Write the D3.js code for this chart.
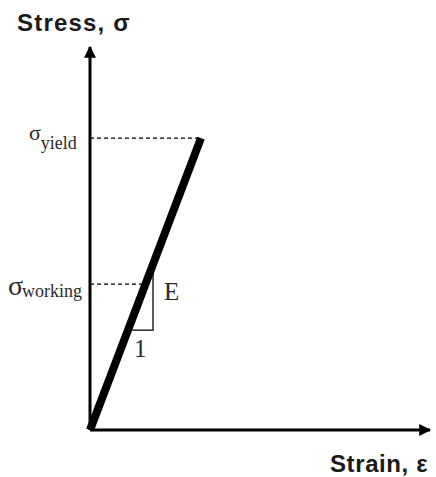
<!DOCTYPE html>
<html>
<head>
<meta charset="utf-8">
<script src="https://cdn.jsdelivr.net/npm/d3@7"></script>
<style>
body { margin: 0; background: #fff; }
</style>
</head>
<body>
<script>
var w = 436;
var h = 477;

// stress-strain values (MPa, strain)
var strainMax = 0.00383;
var stressMax = 328;
var elasticStrain = [0, 0.00125];
var elasticStress = [0, 250];
var yieldStress = 250;
var workingStress = 125;
// slope triangle corners
var triStrain = [0.000428, 0.000710];
var triStress = [85.6, 142];
var labels = ["Stress, σ", "Strain, ε", "E", "1"];

var svg = d3.select("body").append("svg").attr("width", w).attr("height", h);

var x = d3.scaleLinear().domain([0, strainMax]).range([90, 430]);
var y = d3.scaleLinear().domain([0, stressMax]).range([430, 47]);

var defs = svg.append("defs");
defs.append("marker").attr("id", "arr")
    .attr("viewBox", "0 0 10 10").attr("refX", 9).attr("refY", 5)
    .attr("markerWidth", 15).attr("markerHeight", 12)
    .attr("markerUnits", "userSpaceOnUse")
    .attr("orient", "auto")
    .append("path").attr("d", "M0,0L10,5L0,10Z").attr("fill", "#000");

// dashed guides
svg.append("line")
    .attr("x1", x(0)).attr("x2", x(elasticStrain[1]))
    .attr("y1", y(yieldStress)).attr("y2", y(yieldStress))
    .attr("stroke", "#000").attr("stroke-width", 1.2).attr("stroke-dasharray", "4,3");
svg.append("line")
    .attr("x1", x(0)).attr("x2", x(workingStress / 200000))
    .attr("y1", y(workingStress)).attr("y2", y(workingStress))
    .attr("stroke", "#000").attr("stroke-width", 1.2).attr("stroke-dasharray", "4,3");

// slope triangle
svg.append("path")
    .attr("d", "M" + x(triStrain[1]) + "," + y(triStress[1]) +
        "L" + x(triStrain[1]) + "," + y(triStress[0]) +
        "L" + x(triStrain[0]) + "," + y(triStress[0]))
    .attr("fill", "none").attr("stroke", "#000").attr("stroke-width", 1.3);

// axes
svg.append("line")
    .attr("x1", x(0)).attr("y1", y(0)).attr("x2", x(0)).attr("y2", y(stressMax))
    .attr("stroke", "#000").attr("stroke-width", 3).attr("marker-end", "url(#arr)");
svg.append("line")
    .attr("x1", x(0)).attr("y1", y(0)).attr("x2", x(strainMax)).attr("y2", y(0))
    .attr("stroke", "#000").attr("stroke-width", 3).attr("marker-end", "url(#arr)");

// elastic line
var line = d3.line().x(function(d){ return x(d[0]); }).y(function(d){ return y(d[1]); });
svg.append("path")
    .datum(d3.zip(elasticStrain, elasticStress))
    .attr("d", line)
    .attr("fill", "none").attr("stroke", "#000").attr("stroke-width", 8);

// labels
svg.append("text").attr("x", 17).attr("y", 31)
    .attr("font-family", "'Liberation Sans', Arial, sans-serif").attr("font-weight", "bold")
    .attr("font-size", 24).attr("letter-spacing", 1.2).attr("fill", "#1a1a1a").text(labels[0]);
svg.append("text").attr("x", 330).attr("y", 472)
    .attr("font-family", "'Liberation Sans', Arial, sans-serif").attr("font-weight", "bold")
    .attr("font-size", 24).attr("letter-spacing", 0.6).attr("fill", "#1a1a1a").text(labels[1]);

var serif = "'Liberation Serif', 'Times New Roman', serif";
var t1 = svg.append("text").attr("x", 29).attr("y", y(yieldStress) + 2)
    .attr("font-family", serif).attr("font-size", 22).attr("fill", "#2a2a2a");
t1.append("tspan").text("σ");
t1.append("tspan").attr("font-size", 18).attr("dy", 9).text("yield");

var t2 = svg.append("text").attr("x", 8).attr("y", y(workingStress) + 11)
    .attr("font-family", serif).attr("font-size", 28).attr("fill", "#2a2a2a");
t2.append("tspan").text("σ");
t2.append("tspan").attr("font-size", 18).attr("dx", -1).attr("dy", 2).text("working");

svg.append("text").attr("x", 164).attr("y", 300)
    .attr("font-family", serif).attr("font-size", 25).attr("fill", "#2a2a2a").text(labels[2]);
svg.append("text").attr("x", 134).attr("y", 357)
    .attr("font-family", serif).attr("font-size", 25).attr("fill", "#2a2a2a").text(labels[3]);
</script>
</body>
</html>
